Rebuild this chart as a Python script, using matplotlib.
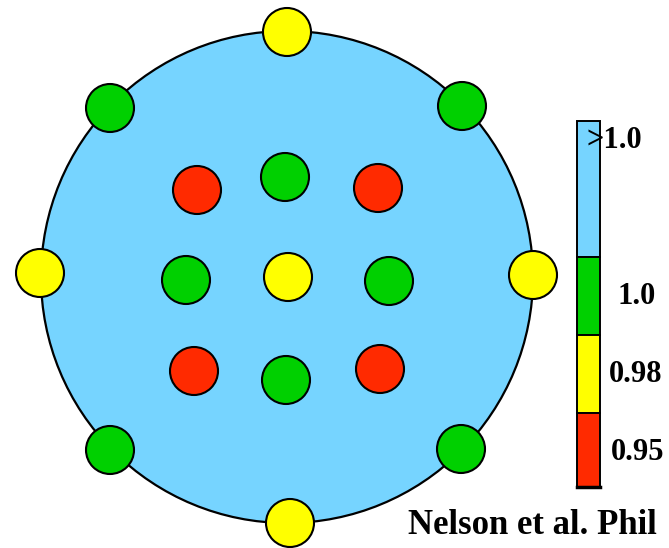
import matplotlib.pyplot as plt
from matplotlib.patches import Circle, Rectangle

# site centres (pixel coordinates) and their colour class
site_x = [287, 462, 533, 461, 290, 110, 40, 110,
          197, 285, 378, 186, 288, 389, 194, 286, 380]
site_y = [32, 106, 275, 449, 523, 450, 273, 108,
          190, 177, 188, 280, 277, 281, 371, 380, 369]
site_cls = ['0.98', '1.0', '0.98', '1.0', '0.98', '1.0', '0.98', '1.0',
            '0.95', '1.0', '0.95', '1.0', '0.98', '1.0', '0.95', '1.0', '0.95']

# colour scale: class labels top to bottom and band edges
scale_labels = ['>1.0', '1.0', '0.98', '0.95']
scale_edges = [121, 257, 335, 413, 487]

colors = {'>1.0': '#76D4FF', '1.0': '#00D000', '0.98': '#FFFF00', '0.95': '#FF2A00'}

W, H = 669, 548
fig = plt.figure(figsize=(W / 100, H / 100), dpi=100)
ax = fig.add_axes([0, 0, 1, 1])
ax.set_xlim(0, W)
ax.set_ylim(H, 0)
ax.set_aspect('equal')
ax.axis('off')

# the crystal disc
ax.add_patch(Circle((287, 277), 246, facecolor=colors['>1.0'],
                    edgecolor='black', lw=1.6, zorder=1))

for x, y, c in zip(site_x, site_y, site_cls):
    ax.add_patch(Circle((x, y), 24, facecolor=colors[c],
                        edgecolor='black', lw=1.5, zorder=2))

# colour bar
for lab, y0, y1 in zip(scale_labels, scale_edges[:-1], scale_edges[1:]):
    ax.add_patch(Rectangle((577, y0), 23, y1 - y0, facecolor=colors[lab],
                           edgecolor='black', lw=1.4, zorder=2))
ax.plot([577, 600], [scale_edges[-1], scale_edges[-1]], color='black', lw=2.5, zorder=3)

font = dict(family='Liberation Serif', fontweight='bold', fontsize=22)
label_pos = [(586, 140, 'left'), (637, 296, 'center'), (636, 374, 'center'), (638, 452, 'center')]
for lab, (x, y, ha) in zip(scale_labels, label_pos):
    ax.text(x, y, lab, ha=ha, va='center', zorder=4, **font)

ax.text(408, 534, 'Nelson et al. Phil', ha='left', va='baseline',
        family='Liberation Serif', fontweight='bold', fontsize=25)

fig.savefig('out.png', dpi=100)
